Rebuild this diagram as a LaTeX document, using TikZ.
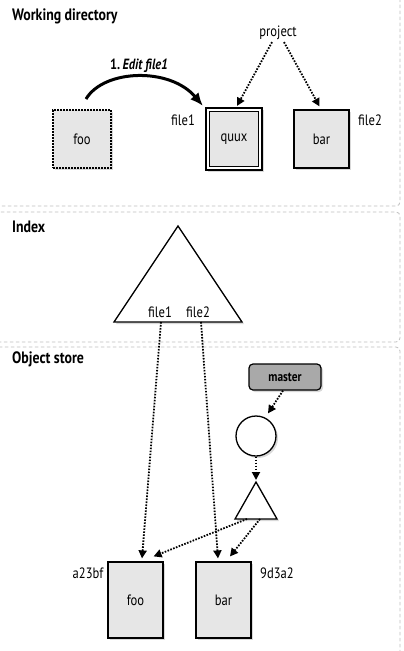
\documentclass[tikz,border=0pt]{standalone}
\usepackage{fontspec}
\setmainfont{PT Sans}[FakeStretch=0.84]
\usetikzlibrary{arrows.meta,shadows,calc}
\definecolor{boxgray}{HTML}{E6E6E6}
\definecolor{refgray}{HTML}{A9A9A9}
\definecolor{panelline}{HTML}{BDBDBD}
\begin{document}
\begin{tikzpicture}[x=1pt,y=-1pt,
  panel/.style={draw=panelline,line width=0.8pt,dash pattern=on 3.5pt off 2.5pt,rounded corners=4pt},
  heading/.style={anchor=west,font=\bfseries\fontsize{16.5}{18}\selectfont,inner sep=0pt},
  label/.style={font=\fontsize{15}{17}\selectfont,inner sep=0pt},
  shade/.style={drop shadow={opacity=0.3,shadow xshift=2pt,shadow yshift=-2pt}},
  filebox/.style={draw,line width=1.2pt,fill=boxgray,shade,inner sep=0pt,
    font=\fontsize{15}{17}\selectfont},
  ptr/.style={line width=1.8pt,dash pattern=on 1.6pt off 1.4pt,
    -{Triangle[length=8pt,width=8pt]}},
  editarrow/.style={line width=3pt,-{Latex[length=13pt,width=11pt]}}
]
\useasboundingbox (0,0) rectangle (404,651);

% dashed panels
\draw[panel] (-10,-10) rectangle (400,206);
\draw[panel] (-10,212) rectangle (400,342);
\draw[panel] (-10,347) rectangle (400,665);

% ---------------- Working directory ----------------
\node[heading] (hwd) at (12,16) {Working directory};

\node[filebox,dash pattern=on 1.6pt off 1.4pt,line width=1.8pt,
  minimum width=58pt,minimum height=58pt] (wdfoo) at (82,139) {foo};

\node[draw,line width=2.2pt,fill=white,shade,minimum width=56pt,
  minimum height=62pt,inner sep=0pt] (quux) at (234,139) {};
\node[draw,line width=0.9pt,fill=boxgray,minimum width=49pt,minimum height=55pt,
  inner sep=0pt,font=\fontsize{15}{17}\selectfont] (quuxin) at (quux.center) {quux};

\node[filebox,minimum width=55pt,minimum height=58pt] (wdbar) at (321.5,139) {bar};

\node[label] (lfile1) at (183,120) {file1};
\node[label] (lfile2) at (370,120) {file2};
\node[label] (project) at (278,33) {project};

\node[font=\fontsize{14.8}{17}\selectfont,inner sep=0pt] (edit) at (139,66)
  {\textbf{1.}\,\textbf{\textit{Edit file1}}};

\coordinate (editstart) at (86,99);
\draw[editarrow] (editstart) .. controls (104,69) and (170,67) .. ($(quux.north west)+(-2,-1)$);

\draw[ptr] ($(project.south)+(-6,2)$) -- ($(quux.north)+(3,-1)$);
\draw[ptr] ($(project.south)+(6,2)$) -- ($(wdbar.north)+(-2,-3)$);

% ---------------- Index ----------------
\node[heading] (hidx) at (12,227) {Index};
\coordinate (itop) at (178,226);
\coordinate (ileft) at (114,322);
\coordinate (iright) at (242,322);
\draw[line width=1.3pt,fill=white,shade,line join=miter] (itop) -- (ileft) -- (iright) -- cycle;
\node[label] (ifile1) at (160,312) {file1};
\node[label] (ifile2) at (198,312) {file2};
\coordinate (ip1) at (161,322);
\coordinate (ip2) at (201,322);

% ---------------- Object store ----------------
\node[heading] (hobj) at (12,359) {Object store};

\node[draw,line width=1.2pt,fill=refgray,rounded corners=4pt,shade,
  minimum width=72pt,minimum height=26pt,inner sep=0pt,
  font=\bfseries\fontsize{13.5}{15}\selectfont] (master) at (285,377) {master};

\node[draw,circle,line width=1.3pt,fill=white,shade,minimum size=40pt,inner sep=0pt]
  (commit) at (256,436) {};

\coordinate (ttop) at (256,482);
\coordinate (tleft) at (235,519);
\coordinate (tright) at (277,519);
\draw[line width=1.3pt,fill=white,shade,line join=miter] (ttop) -- (tleft) -- (tright) -- cycle;
\coordinate (tb1) at (247,519);
\coordinate (tb2) at (260,519);

\node[filebox,minimum width=55pt,minimum height=76pt] (objfoo) at (135.5,600) {foo};
\node[filebox,minimum width=55pt,minimum height=76pt] (objbar) at (223.5,600) {bar};

\node[label] (hfoo) at (88,573) {a23bf};
\node[label] (hbar) at (277,573) {9d3a2};

\draw[ptr] (ip1) -- ($(objfoo.north)+(6.5,-3)$);
\draw[ptr] (ip2) -- ($(objbar.north)+(-5.5,-3)$);
\draw[ptr] ($(master.south)+(-2,0)$) -- ($(commit.north)+(12,-2)$);
\draw[ptr] (commit.south) -- ($(ttop)+(0,-2)$);
\draw[ptr] (tb1) -- ($(objfoo.north east)+(-10,-5)$);
\draw[ptr] (tb2) -- ($(objbar.north)+(6.5,-5)$);
\end{tikzpicture}
\end{document}
